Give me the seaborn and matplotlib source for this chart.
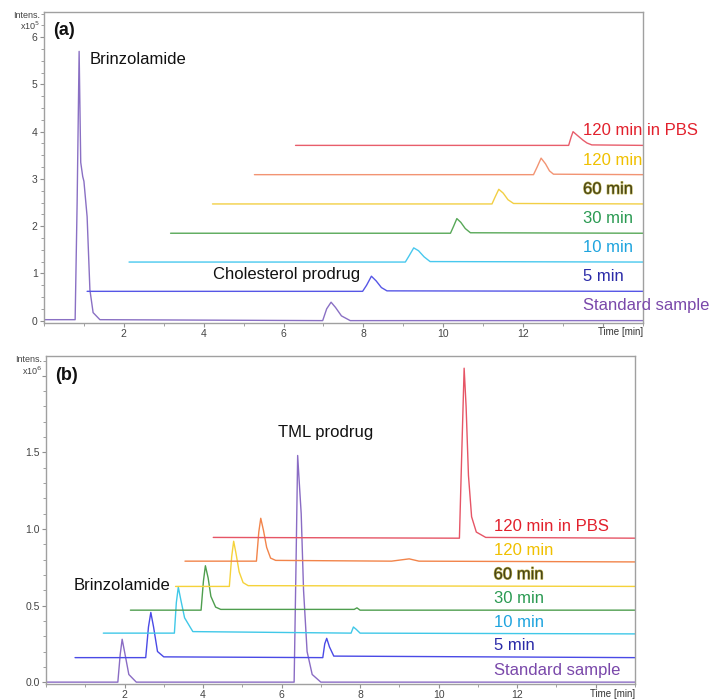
import matplotlib

matplotlib.use("Agg")
import matplotlib.pyplot as plt
import matplotlib.patheffects as pe
import seaborn as sns
import pandas as pd
from matplotlib.ticker import MultipleLocator

sns.set_style("ticks")
plt.rcParams["font.family"] = ["Liberation Sans", "DejaVu Sans"]

samples = ["Standard sample", "5 min", "10 min", "30 min", "60 min", "120 min", "120 min in PBS"]

######Panel (a) traces, intensity x10^5
a_std_t = [0, 0.78, 0.83, 0.88, 0.92, 0.97, 1.0, 1.08, 1.15, 1.23, 1.4, 6.98, 7.08, 7.19, 7.3, 7.45, 7.67, 15]
a_std_i = [0.02, 0.02, 2.5, 5.7, 3.35, 3.05, 2.95, 2.2, 0.65, 0.17, 0.02, 0.0, 0.25, 0.39, 0.28, 0.1, 0.0, 0.0]
a_5_t = [1.08, 7.98, 8.08, 8.2, 8.32, 8.45, 8.59, 15]
a_5_i = [0.62, 0.62, 0.75, 0.94, 0.84, 0.7, 0.63, 0.62]
a_10_t = [2.13, 9.05, 9.15, 9.26, 9.38, 9.52, 9.67, 15]
a_10_i = [1.24, 1.24, 1.38, 1.54, 1.48, 1.35, 1.25, 1.24]
a_30_t = [3.17, 10.18, 10.26, 10.34, 10.44, 10.55, 10.68, 15]
a_30_i = [1.85, 1.85, 2.0, 2.16, 2.08, 1.95, 1.86, 1.85]
a_60_t = [4.22, 11.22, 11.3, 11.39, 11.5, 11.62, 11.76, 15]
a_60_i = [2.47, 2.47, 2.62, 2.78, 2.7, 2.56, 2.48, 2.47]
a_120_t = [5.27, 12.26, 12.35, 12.45, 12.56, 12.66, 12.76, 15]
a_120_i = [3.09, 3.09, 3.25, 3.44, 3.32, 3.17, 3.1, 3.09]
a_pbs_t = [6.3, 13.14, 13.2, 13.25, 13.36, 13.5, 13.6, 13.72, 15]
a_pbs_i = [3.71, 3.71, 3.88, 4.0, 3.92, 3.82, 3.76, 3.72, 3.71]

######Panel (b) traces, intensity x10^6
b_std_t = [0, 1.83, 1.89, 1.94, 2.0, 2.11, 2.3, 6.32, 6.37, 6.41, 6.44, 6.5, 6.56, 6.65, 6.78, 7.0, 15]
b_std_i = [0.0, 0.0, 0.18, 0.28, 0.2, 0.05, 0.0, 0.0, 0.8, 1.48, 1.35, 1.1, 0.6, 0.2, 0.05, 0.0, 0.0]
b_5_t = [0.74, 2.54, 2.61, 2.67, 2.74, 2.84, 3.0, 7.05, 7.1, 7.15, 7.22, 7.33, 15]
b_5_i = [0.16, 0.16, 0.36, 0.455, 0.36, 0.2, 0.165, 0.16, 0.25, 0.286, 0.23, 0.17, 0.16]
b_10_t = [1.46, 3.27, 3.32, 3.37, 3.44, 3.53, 3.74, 7.77, 7.83, 7.9, 8.0, 15]
b_10_i = [0.32, 0.32, 0.52, 0.62, 0.53, 0.42, 0.33, 0.32, 0.36, 0.345, 0.32, 0.315]
b_30_t = [2.15, 3.95, 4.01, 4.06, 4.13, 4.2, 4.32, 4.45, 7.85, 7.92, 8.0, 15]
b_30_i = [0.47, 0.47, 0.66, 0.76, 0.68, 0.56, 0.49, 0.475, 0.475, 0.485, 0.47, 0.47]
b_60_t = [3.3, 4.67, 4.73, 4.78, 4.84, 4.92, 5.02, 5.15, 15]
b_60_i = [0.625, 0.625, 0.82, 0.92, 0.84, 0.72, 0.65, 0.63, 0.625]
b_120_t = [3.54, 5.36, 5.42, 5.47, 5.54, 5.62, 5.72, 5.85, 8.8, 9.25, 9.5, 15]
b_120_i = [0.79, 0.79, 0.98, 1.07, 0.99, 0.88, 0.81, 0.795, 0.79, 0.805, 0.79, 0.785]
b_pbs_t = [4.26, 10.53, 10.59, 10.65, 10.7, 10.76, 10.84, 10.96, 11.2, 15]
b_pbs_i = [0.945, 0.94, 1.5, 2.05, 1.8, 1.35, 1.08, 0.98, 0.945, 0.94]

line_colors_a = ["#8a70c4", "#5656e6", "#48c8ee", "#58a858", "#f2cf45", "#f29473", "#e85d6b"]
line_colors_b = ["#8a6cc4", "#4a4ae6", "#40c8e8", "#4e9e4e", "#f5d23a", "#f2844a", "#e65566"]
label_colors = ["#7a48aa", "#2a2aa8", "#1ea4de", "#2a9a52", "#46441a", "#f0c000", "#e2202c"]

panels = [
    dict(tag="(a)", exp=5, traces=[(a_std_t, a_std_i), (a_5_t, a_5_i), (a_10_t, a_10_i), (a_30_t, a_30_i),
                                   (a_60_t, a_60_i), (a_120_t, a_120_i), (a_pbs_t, a_pbs_i)],
         colors=line_colors_a),
    dict(tag="(b)", exp=6, traces=[(b_std_t, b_std_i), (b_5_t, b_5_i), (b_10_t, b_10_i), (b_30_t, b_30_i),
                                   (b_60_t, b_60_i), (b_120_t, b_120_i), (b_pbs_t, b_pbs_i)],
         colors=line_colors_b),
]


def to_frame(traces):
    rows = []
    for name, (t, i) in zip(samples, traces):
        rows.append(pd.DataFrame({"time": t, "intensity": i, "sample": name}))
    return pd.concat(rows, ignore_index=True)


def put_label(ax, x, y, name, color):
    txt = ax.text(x, y, name, color=color, fontsize=12, ha="left", va="center")
    if name == "60 min":
        txt.set_path_effects([pe.withStroke(linewidth=0.9, foreground="#b8ac48")])


fig = plt.figure(figsize=(7.13, 7.0), dpi=100)
ax_a = fig.add_axes([0.0617, 0.5386, 0.840, 0.444])
ax_b = fig.add_axes([0.0645, 0.0229, 0.826, 0.4686])

for ax, p in zip([ax_a, ax_b], panels):
    df = to_frame(p["traces"])
    sns.lineplot(
        data=df, x="time", y="intensity", hue="sample", hue_order=samples,
        palette=p["colors"], estimator=None, sort=False, linewidth=1.0,
        legend=False, ax=ax,
    )
    ax.set_xlim(0, 15)
    ax.set_xlabel("")
    ax.set_ylabel("")
    ax.set_xticks([2, 4, 6, 8, 10, 12, 14])
    ax.set_xticklabels(["2", "4", "6", "8", "10", "12", ""])
    ax.xaxis.set_minor_locator(MultipleLocator(1))
    for s in ax.spines.values():
        s.set_color("#a0a0a0")
        s.set_linewidth(1.0)
    ax.tick_params(which="both", direction="out", color="#909090", labelsize=7.5,
                   labelcolor="#444444", pad=1.5)
    ax.tick_params(which="major", length=3)
    ax.tick_params(which="minor", length=2)
    ax.text(1.0, -0.03, "Time [min]", transform=ax.transAxes, ha="right", va="center",
            fontsize=7, color="#333333")
    ax.text(-0.007, 0.99, "Intens.", transform=ax.transAxes, ha="right", va="center",
            fontsize=6.5, color="#444444")
    ax.text(-0.007, 0.955, f"x10$^{p['exp']}$", transform=ax.transAxes, ha="right", va="center",
            fontsize=6.5, color="#444444")
    ax.text(0.015, 0.94, p["tag"], transform=ax.transAxes, ha="left", va="center",
            fontsize=13, fontweight="bold", color="#111111")

# panel (a) y axis and labels
ax_a.set_ylim(-0.05, 6.53)
ax_a.set_yticks([0, 1, 2, 3, 4, 5, 6])
ax_a.yaxis.set_minor_locator(MultipleLocator(0.25))
for name, (t, i), c in zip(samples, panels[0]["traces"], label_colors):
    put_label(ax_a, 13.5, i[-1] + 0.31, name, c)
ax_a.text(1.15, 5.53, "Brinzolamide", fontsize=12, ha="left", va="center", color="#111111")
ax_a.text(4.24, 0.97, "Cholesterol prodrug", fontsize=12, ha="left", va="center", color="#111111")

# panel (b) y axis and labels
ax_b.set_ylim(-0.012, 2.13)
ax_b.set_yticks([0, 0.5, 1.0, 1.5, 2.0])
ax_b.set_yticklabels(["0.0", "0.5", "1.0", "1.5", ""])
ax_b.yaxis.set_minor_locator(MultipleLocator(0.1))
for name, (t, i), c in zip(samples, panels[1]["traces"], label_colors):
    put_label(ax_b, 11.4, i[-1] + 0.077, name, c)
ax_b.text(5.92, 1.63, "TML prodrug", fontsize=12, ha="left", va="center", color="#111111")
ax_b.text(0.7, 0.63, "Brinzolamide", fontsize=12, ha="left", va="center", color="#111111")

fig.savefig("out.png", dpi=100)
plt.close(fig)
